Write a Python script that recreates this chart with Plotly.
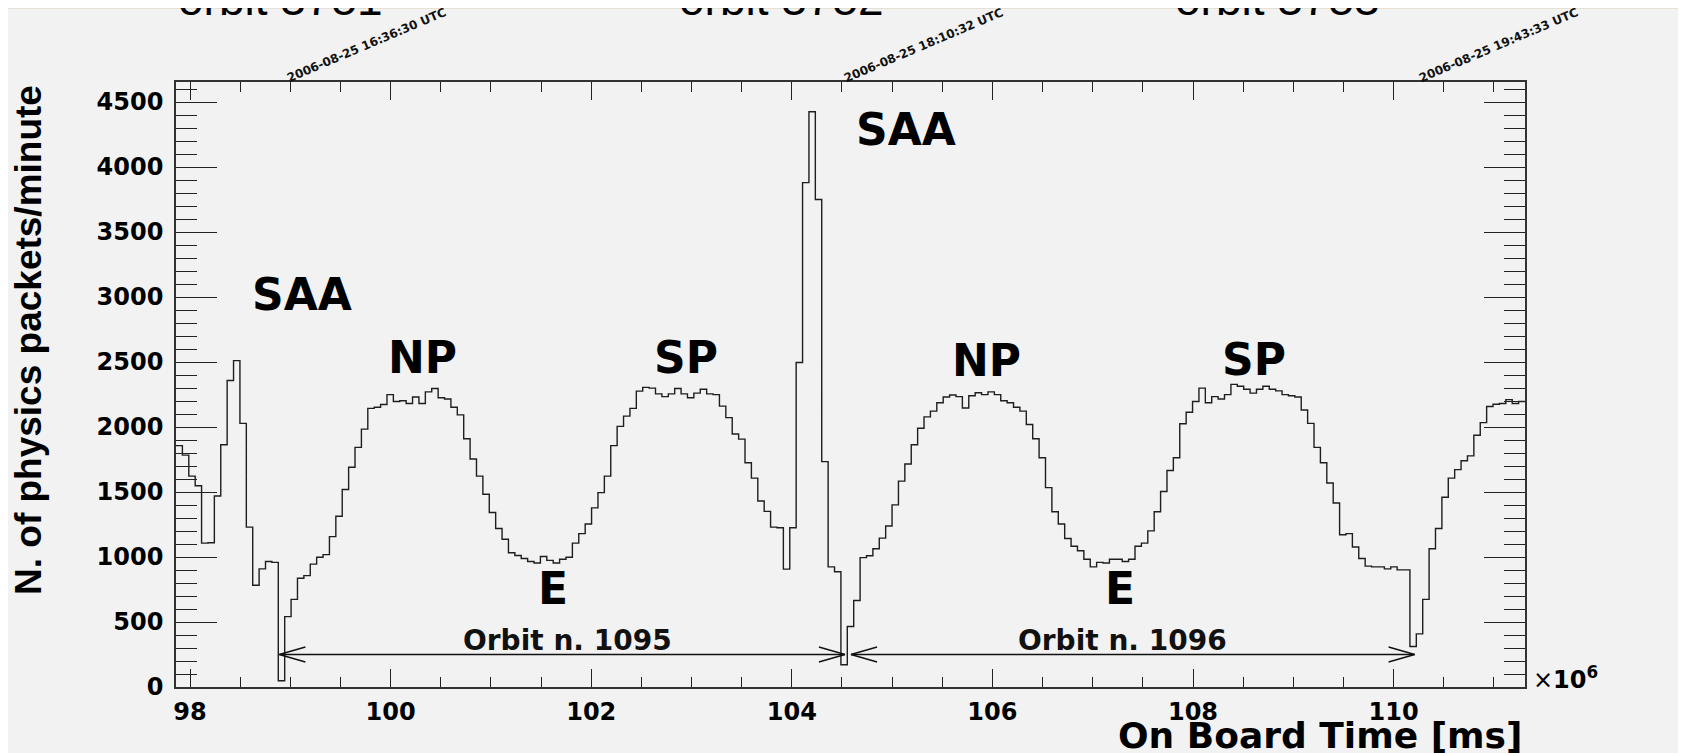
import numpy as np
import plotly.graph_objects as go

# ---------------- data ----------------
bin_low = 97.86      # x10^6 ms
bin_high = 111.31    # x10^6 ms
counts = [
    1857, 1784, 1622, 1548, 1107, 1110, 1469, 1863, 2358, 2511,
    2028, 1230, 783, 909, 965, 959, 48, 541, 674, 836,
    857, 945, 998, 1018, 1157, 1313, 1519, 1690, 1843, 1984,
    2143, 2152, 2173, 2249, 2196, 2202, 2181, 2231, 2181, 2270,
    2296, 2225, 2216, 2152, 2093, 1910, 1754, 1622, 1483, 1342,
    1219, 1136, 1033, 1012, 989, 965, 954, 1004, 974, 954,
    983, 998, 1107, 1180, 1254, 1378, 1495, 1622, 1857, 2005,
    2084, 2143, 2276, 2305, 2299, 2255, 2234, 2255, 2296, 2255,
    2225, 2261, 2290, 2255, 2249, 2161, 2072, 1946, 1907, 1725,
    1607, 1431, 1351, 1230, 1225, 907, 1225, 2496, 3880, 4425,
    3750, 1734, 924, 886, 171, 465, 665, 995, 1010, 1063,
    1145, 1239, 1401, 1584, 1716, 1863, 1990, 2078, 2122, 2187,
    2231, 2246, 2234, 2146, 2240, 2264, 2249, 2270, 2249, 2202,
    2187, 2152, 2122, 2019, 1910, 1763, 1534, 1348, 1254, 1142,
    1083, 1048, 983, 924, 959, 954, 983, 983, 965, 983,
    1083, 1107, 1201, 1348, 1504, 1666, 1763, 2025, 2114, 2196,
    2299, 2187, 2234, 2216, 2249, 2328, 2314, 2290, 2261, 2290,
    2314, 2290, 2278, 2249, 2240, 2231, 2131, 2028, 1843, 1725,
    1569, 1416, 1171, 1180, 1077, 989, 930, 924, 924, 909,
    924, 901, 901, 312, 409, 674, 1063, 1219, 1460, 1607,
    1672, 1740, 1778, 1937, 2034, 2158, 2175, 2181, 2211, 2181,
    2196,
]

y_max = 4654

orbit_names = ["Orbit n. 1095", "Orbit n. 1096"]
orbit_start = [98.89, 104.59]
orbit_end = [104.53, 110.21]
orbit_label_x = [101.76, 107.30]
orbit_arrow_level = 250
orbit_label_level = 355

region_labels = ["SAA", "NP", "SP", "E", "SAA", "NP", "SP", "E"]
region_x = [99.12, 100.32, 102.94, 101.62, 105.14, 105.94, 108.61, 107.27]
region_y = [3023, 2538, 2538, 754, 4285, 2515, 2523, 754]

timestamps = ["2006-08-25 16:36:30 UTC", "2006-08-25 18:10:32 UTC",
              "2006-08-25 19:43:33 UTC"]
timestamp_x = [98.92, 104.48, 110.21]

top_titles = ["orbit 3751", "orbit 3752", "orbit 3753"]
top_title_x = [98.9, 103.9, 108.84]

# ---------------- figure ----------------
# The page body adds an 8px offset; margins compensate so that the
# plot frame lands at x 176..1525, y 82..687 in the window.
OFF = 8
W, H = 1686, 753
PL, PR, PT, PB = 176, 1525, 82, 687          # window pixel frame
pw, ph = PR - PL, PB - PT
L, T = PL - OFF, PT - OFF
R, B = W - L - pw, H - T - ph


def px_x(px):
    return (px - PL) / pw


def px_y(py):
    return (PB - py) / ph


edges = np.linspace(bin_low, bin_high, len(counts) + 1)
ys = list(counts) + [counts[-1]]

fig = go.Figure()
fig.add_trace(go.Scatter(x=edges, y=ys, mode="lines", line_shape="hv",
                         line=dict(color="#1e1e1e", width=1.4),
                         hoverinfo="skip", showlegend=False))

# orbit arrows (open V heads)
head_len = 0.26
head_half = 58
for s, e in zip(orbit_start, orbit_end):
    lv = orbit_arrow_level
    xs = [s + head_len, s, s + head_len, None, s, e, None,
          e - head_len, e, e - head_len]
    yv = [lv + head_half, lv, lv - head_half, None, lv, lv, None,
          lv + head_half, lv, lv - head_half]
    fig.add_trace(go.Scatter(x=xs, y=yv, mode="lines",
                             line=dict(color="#111111", width=1.4),
                             hoverinfo="skip", showlegend=False))

bold = "DejaVu Sans"
ann = []
for name, xc in zip(orbit_names, orbit_label_x):
    ann.append(dict(x=xc, y=orbit_label_level, xref="x", yref="y", text="<b>%s</b>" % name,
                    showarrow=False, font=dict(family=bold, size=28, color="#111"),
                    xanchor="center", yanchor="middle"))
for t, xc, yc in zip(region_labels, region_x, region_y):
    ann.append(dict(x=xc, y=yc, xref="x", yref="y", text="<b>%s</b>" % t,
                    showarrow=False, font=dict(family=bold, size=44, color="#000"),
                    xanchor="center", yanchor="middle"))
for t, xc in zip(timestamps, timestamp_x):
    ann.append(dict(x=xc, y=1.0, xref="x", yref="paper", text="<b>%s</b>" % t,
                    showarrow=False, textangle=-23,
                    font=dict(family=bold, size=12, color="#111"),
                    xanchor="left", yanchor="bottom", yshift=-6))
for t, xc in zip(top_titles, top_title_x):
    ann.append(dict(x=xc, y=px_y(27), xref="x", yref="paper", text=t,
                    showarrow=False, font=dict(family="Liberation Sans", size=46, color="#000"),
                    xanchor="center", yanchor="bottom"))
# axis titles
ann.append(dict(x=px_x(28), y=px_y(340), xref="paper", yref="paper",
                text="<b>N. of physics packets/minute</b>", textangle=-90,
                showarrow=False, font=dict(family="Liberation Sans", size=37, color="#000"),
                xanchor="center", yanchor="middle"))
ann.append(dict(x=1.0, y=px_y(735), xref="paper", yref="paper",
                text="<b>On Board Time [ms]</b>", showarrow=False,
                font=dict(family=bold, size=36, color="#000"),
                xanchor="right", yanchor="middle"))
ann.append(dict(x=px_x(1531), y=px_y(678), xref="paper", yref="paper",
                text="×<b>10<sup>6</sup></b>", showarrow=False,
                font=dict(family=bold, size=24, color="#000"),
                xanchor="left", yanchor="middle"))

shapes = [
    dict(type="line", xref="paper", yref="paper", x0=px_x(OFF), x1=px_x(W + OFF),
         y0=px_y(OFF), y1=px_y(OFF), line=dict(color="#e6e1d2", width=2), layer="below"),
]

fig.update_layout(
    width=W, height=H,
    margin=dict(l=L, r=R, t=T, b=B, autoexpand=False),
    paper_bgcolor="#f2f2f2", plot_bgcolor="#f2f2f2",
    showlegend=False, annotations=ann, shapes=shapes,
)
fig.update_xaxes(range=[bin_low, bin_high], tick0=98, dtick=2, ticks="inside",
                 ticklen=18, tickwidth=1.2, tickcolor="#222",
                 minor=dict(dtick=0.5, tick0=98, ticks="inside", ticklen=10,
                            tickwidth=1.2, tickcolor="#222", showgrid=False),
                 showline=True, linecolor="#333", linewidth=1.6, mirror="ticks",
                 showgrid=False, zeroline=False, automargin=False,
                 tickfont=dict(family=bold, size=24, color="#000"),
                 tickprefix="<b>", ticksuffix="</b>", ticklabelstandoff=2)
fig.update_yaxes(range=[0, y_max], tick0=0, dtick=500, ticks="inside",
                 ticklen=41, tickwidth=1.2, tickcolor="#222",
                 minor=dict(dtick=100, tick0=0, ticks="inside", ticklen=21,
                            tickwidth=1.2, tickcolor="#222", showgrid=False),
                 showline=True, linecolor="#333", linewidth=1.6, mirror="ticks",
                 showgrid=False, zeroline=False, automargin=False,
                 tickfont=dict(family=bold, size=24, color="#000"),
                 tickprefix="<b>", ticksuffix="</b>", ticklabelstandoff=6)

fig.write_html("out.html")
